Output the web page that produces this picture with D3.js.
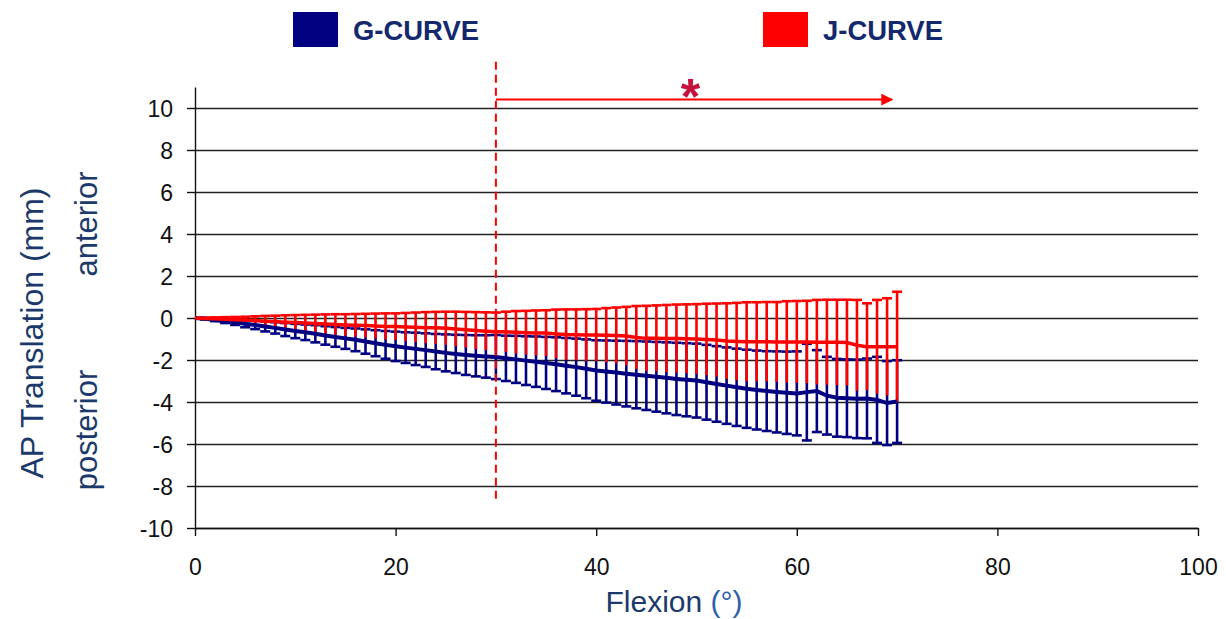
<html>
<head>
    <title>AP translation vs flexion</title>
    <script type="text/javascript" src="https://d3js.org/d3.v7.min.js"></script>
    <style>
        body {
            margin: 0;
            background: white;
            font-family: "Liberation Sans", Arial, sans-serif;
        }

        .grid line {
            stroke: #222;
            stroke-width: 1.4px;
        }

        .axis text {
            font-size: 23px;
            fill: #111;
        }

        .axis path, .axis line {
            stroke: #111;
            stroke-width: 1.4px;
        }

        .title {
            fill: #1b3a6b;
        }

        .legend {
            font-weight: bold;
            font-size: 27px;
            fill: #14286e;
        }
    </style>
</head>
<body>
<div id="chart"></div>

<script>
    // flexion angle (deg)
    var flexion = [0, 1, 2, 3, 4, 5, 6, 7, 8, 9, 10, 11, 12, 13, 14, 15, 16, 17, 18, 19, 20,
        21, 22, 23, 24, 25, 26, 27, 28, 29, 30, 31, 32, 33, 34, 35, 36, 37, 38, 39, 40,
        41, 42, 43, 44, 45, 46, 47, 48, 49, 50, 51, 52, 53, 54, 55, 56, 57, 58, 59, 60,
        61, 62, 63, 64, 65, 66, 67, 68, 69, 70];

    // G-curve mean and SD (mm)
    var gMean = [0, -0.04, -0.09, -0.14, -0.2, -0.27, -0.33, -0.4, -0.47, -0.55, -0.62,
        -0.68, -0.75, -0.83, -0.9, -0.97, -1.04, -1.12, -1.2, -1.28, -1.35,
        -1.41, -1.47, -1.53, -1.6, -1.66, -1.71, -1.76, -1.8, -1.83, -1.86,
        -1.92, -1.97, -2.03, -2.08, -2.14, -2.2, -2.27, -2.34, -2.42, -2.5,
        -2.55, -2.6, -2.65, -2.7, -2.75, -2.8, -2.85, -2.9, -2.94, -2.98,
        -3.06, -3.14, -3.22, -3.3, -3.37, -3.43, -3.48, -3.52, -3.56, -3.59,
        -3.53, -3.48, -3.7, -3.8, -3.82, -3.85, -3.83, -3.9, -4.05, -3.98];
    var gSd = [0, 0.03, 0.06, 0.1, 0.13, 0.17, 0.2, 0.24, 0.27, 0.31, 0.34,
        0.37, 0.41, 0.44, 0.47, 0.5, 0.54, 0.58, 0.62, 0.66, 0.7,
        0.73, 0.77, 0.8, 0.84, 0.88, 0.91, 0.95, 0.98, 1.01, 1.05,
        1.08, 1.12, 1.16, 1.2, 1.24, 1.28, 1.32, 1.36, 1.4, 1.44,
        1.48, 1.52, 1.56, 1.6, 1.63, 1.66, 1.69, 1.72, 1.74, 1.76,
        1.78, 1.8, 1.82, 1.84, 1.86, 1.88, 1.9, 1.93, 1.96, 2.0,
        2.3, 1.95, 1.85, 1.85, 1.85, 1.87, 1.9, 2.05, 2.0, 1.97];

    // J-curve mean and SD (mm)
    var jMean = [0, -0.02, -0.04, -0.06, -0.08, -0.1, -0.12, -0.15, -0.17, -0.2, -0.22,
        -0.24, -0.26, -0.28, -0.31, -0.33, -0.35, -0.36, -0.38, -0.4, -0.41,
        -0.43, -0.44, -0.46, -0.47, -0.49, -0.52, -0.56, -0.6, -0.63, -0.65,
        -0.66, -0.68, -0.7, -0.71, -0.72, -0.76, -0.79, -0.8, -0.81, -0.81,
        -0.82, -0.83, -0.86, -0.93, -0.97, -0.97, -0.98, -0.98, -0.99, -1.0,
        -1.02, -1.05, -1.1, -1.12, -1.13, -1.13, -1.13, -1.14, -1.14, -1.14,
        -1.14, -1.15, -1.15, -1.16, -1.17, -1.3, -1.37, -1.37, -1.37, -1.37];
    var jSd = [0, 0.04, 0.07, 0.1, 0.13, 0.16, 0.2, 0.25, 0.28, 0.33, 0.36,
        0.39, 0.42, 0.45, 0.49, 0.51, 0.54, 0.56, 0.59, 0.62, 0.63,
        0.67, 0.7, 0.74, 0.76, 0.79, 0.82, 0.85, 0.88, 0.9, 0.91,
        0.96, 1.01, 1.04, 1.07, 1.09, 1.16, 1.2, 1.21, 1.23, 1.24,
        1.29, 1.33, 1.39, 1.5, 1.55, 1.57, 1.6, 1.62, 1.64, 1.66,
        1.7, 1.74, 1.8, 1.84, 1.88, 1.88, 1.89, 1.9, 1.94, 1.95,
        1.96, 2.01, 2.02, 2.03, 2.04, 2.16, 2.07, 2.23, 2.31, 2.62];

    var xTicks = [0, 20, 40, 60, 80, 100];
    var yTicks = [-10, -8, -6, -4, -2, 0, 2, 4, 6, 8, 10];
    var seriesNames = ["G-CURVE", "J-CURVE"];
    var seriesColors = ["#000080", "#ff0000"];

    // significance annotation: from 30 deg to ~70 deg
    var sigStart = 30, sigEnd = 69.5;

    var W = 1226, H = 619;
    var margin = {top: 87, right: 28, bottom: 91, left: 195};
    var width = W - margin.left - margin.right,
        height = H - margin.top - margin.bottom;

    var x = d3.scaleLinear().domain([0, 100]).range([0, width]);
    var y = d3.scaleLinear().domain([-10, 11]).range([height, 0]);

    var svg = d3.select("#chart").append("svg")
        .attr("width", W)
        .attr("height", H);

    var g = svg.append("g")
        .attr("transform", "translate(" + margin.left + "," + margin.top + ")");

    // horizontal gridlines
    g.append("g")
        .attr("class", "grid")
        .call(d3.axisLeft(y).tickValues(yTicks).tickSize(-width).tickFormat(""))
        .call(function (s) { s.select(".domain").remove(); });

    // y axis (plain hyphen for negatives, like the original)
    g.append("g")
        .attr("class", "axis")
        .call(d3.axisLeft(y).tickValues(yTicks).tickSize(8).tickSizeOuter(0).tickPadding(14)
            .tickFormat(function (d) { return String(d); }))
        .selectAll("text").attr("dy", "0.36em");

    // x axis
    g.append("g")
        .attr("class", "axis")
        .attr("transform", "translate(0," + height + ")")
        .call(d3.axisBottom(x).tickValues(xTicks).tickSize(8).tickSizeOuter(0).tickPadding(23));

    var pts = flexion.map(function (f, i) {
        return {x: f, g: gMean[i], gs: gSd[i], j: jMean[i], js: jSd[i]};
    });

    var cap = 5;

    function errorBars(key, sdKey, color, width, lowerCap) {
        var eb = g.append("g").attr("stroke", color).attr("stroke-width", width).attr("fill", "none");
        var bars = eb.selectAll("g").data(pts.filter(function (d) { return d[sdKey] > 0; })).join("g");
        bars.append("line")
            .attr("x1", function (d) { return x(d.x); })
            .attr("x2", function (d) { return x(d.x); })
            .attr("y1", function (d) { return y(d[key] + d[sdKey]); })
            .attr("y2", function (d) { return y(d[key] - d[sdKey]); });
        bars.append("line")
            .attr("x1", function (d) { return x(d.x) - cap; })
            .attr("x2", function (d) { return x(d.x) + cap; })
            .attr("y1", function (d) { return y(d[key] + d[sdKey]); })
            .attr("y2", function (d) { return y(d[key] + d[sdKey]); });
        if (lowerCap) {
            bars.append("line")
                .attr("x1", function (d) { return x(d.x) - cap; })
                .attr("x2", function (d) { return x(d.x) + cap; })
                .attr("y1", function (d) { return y(d[key] - d[sdKey]); })
                .attr("y2", function (d) { return y(d[key] - d[sdKey]); });
        }
    }

    errorBars("g", "gs", seriesColors[0], 2.6, true);
    errorBars("j", "js", seriesColors[1], 2.6, false);

    var lineG = d3.line().x(function (d) { return x(d.x); }).y(function (d) { return y(d.g); });
    var lineJ = d3.line().x(function (d) { return x(d.x); }).y(function (d) { return y(d.j); });

    g.append("path").datum(pts)
        .attr("d", lineG)
        .attr("fill", "none")
        .attr("stroke", seriesColors[0])
        .attr("stroke-width", 4);

    g.append("path").datum(pts)
        .attr("d", lineJ)
        .attr("fill", "none")
        .attr("stroke", seriesColors[1])
        .attr("stroke-width", 3.5);

    // annotations
    g.append("line")
        .attr("x1", x(sigStart)).attr("x2", x(sigStart))
        .attr("y1", y(12.2)).attr("y2", y(-8.8))
        .attr("stroke", "#ff0000")
        .attr("stroke-width", 2)
        .attr("stroke-dasharray", "8,5");

    svg.append("defs").append("marker")
        .attr("id", "arrow")
        .attr("viewBox", "0 0 10 10")
        .attr("refX", 9).attr("refY", 5)
        .attr("markerWidth", 6).attr("markerHeight", 6)
        .attr("markerUnits", "strokeWidth")
        .attr("orient", "auto")
        .append("path")
        .attr("d", "M0,0 L10,5 L0,10 z")
        .attr("fill", "#ff0000");

    g.append("line")
        .attr("x1", x(sigStart)).attr("x2", x(sigEnd))
        .attr("y1", y(10.4)).attr("y2", y(10.4))
        .attr("stroke", "#ff0000")
        .attr("stroke-width", 2)
        .attr("marker-end", "url(#arrow)");

    g.append("text")
        .attr("x", x(49.4))
        .attr("y", y(10.4) + 14)
        .attr("text-anchor", "middle")
        .style("font-size", "50px")
        .style("font-weight", "bold")
        .style("fill", "#c8103c")
        .text("*");

    // axis titles
    svg.append("text")
        .attr("class", "title")
        .attr("transform", "translate(43,333) rotate(-90)")
        .attr("text-anchor", "middle")
        .style("font-size", "32px")
        .text("AP Translation (mm)");

    svg.append("text")
        .attr("class", "title")
        .attr("transform", "translate(97,224) rotate(-90)")
        .attr("text-anchor", "middle")
        .style("font-size", "31px")
        .text("anterior");

    svg.append("text")
        .attr("class", "title")
        .attr("transform", "translate(97,430) rotate(-90)")
        .attr("text-anchor", "middle")
        .style("font-size", "31px")
        .text("posterior");

    var xt = svg.append("text")
        .attr("class", "title")
        .attr("x", 674)
        .attr("y", 612)
        .attr("text-anchor", "middle")
        .style("font-size", "30px");
    xt.append("tspan").text("Flexion ");
    xt.append("tspan").style("fill", "#2e5fa8").text("(°)");

    // legend
    var legendX = [293, 763];
    var leg = svg.selectAll("g.leg").data(seriesNames).join("g").attr("class", "leg")
        .attr("transform", function (d, i) { return "translate(" + legendX[i] + ",12)"; });
    leg.append("rect")
        .attr("width", 45).attr("height", 35)
        .attr("fill", function (d, i) { return seriesColors[i]; });
    leg.append("text")
        .attr("class", "legend")
        .attr("x", 60).attr("y", 28)
        .attr("textLength", function (d, i) { return i === 0 ? 126 : 120; })
        .attr("lengthAdjust", "spacingAndGlyphs")
        .text(function (d) { return d; });
</script>
</body>
</html>
